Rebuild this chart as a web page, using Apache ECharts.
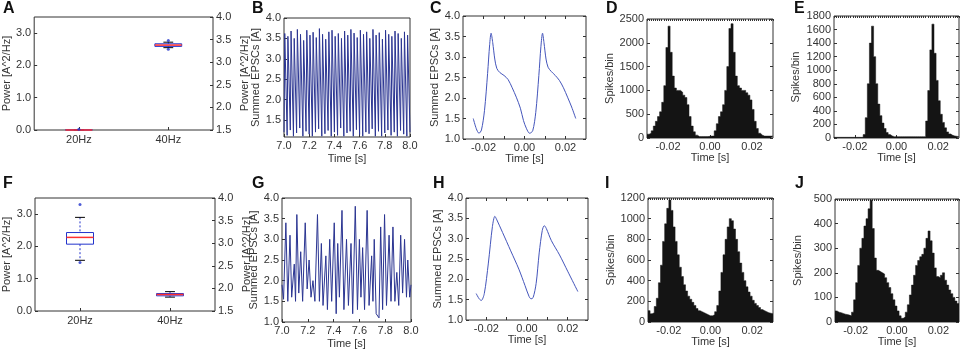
<!DOCTYPE html>
<html>
<head>
<meta charset="utf-8">
<script src="https://cdn.jsdelivr.net/npm/echarts@6/dist/echarts.min.js"></script>
<style>
  html, body { margin: 0; padding: 0; background: #fff; }
  #chart { width: 964px; height: 350px; }
</style>
</head>
<body>
<div id="chart"></div>
<script>
// ---- data ----
const boxCats = ['20Hz', '40Hz']
// [category, low whisker, q1, median, q3, high whisker]
const boxA = [[0, 0, 0, 0, 0.005, 0.01], [1, 2.55, 2.59, 2.63, 2.67, 2.72]]
const outA = [[0, 0.02], [1, 2.5], [1, 2.77]]
const boxF = [[0, 1.57, 2.07, 2.28, 2.43, 2.9], [1, 0.43, 0.47, 0.51, 0.54, 0.6]]
const outF = [[0, 3.3], [0, 1.5]]

const powerTicks = [0, 1, 2, 3]
const powerRightTicks = [1.5, 2, 2.5, 3, 3.5, 4]
const epscTicksB = [1.5, 2, 2.5, 3, 3.5, 4]
const epscTicks = [1, 1.5, 2, 2.5, 3, 3.5, 4]
const timeTicks = [7, 7.2, 7.4, 7.6, 7.8, 8]
const lagLabels = [-0.02, 0, 0.02]
const lagTicks = [-0.02, -0.01, 0, 0.01, 0.02]
const ticksD = [0, 500, 1000, 1500, 2000, 2500]
const ticksE = [0, 200, 400, 600, 800, 1000, 1200, 1400, 1600, 1800]
const ticksI = [0, 200, 400, 600, 800, 1000, 1200]
const ticksJ = [0, 100, 200, 300, 400, 500]

// B: peaks / troughs of the 40 Hz summed EPSC trace
const bPeaks = [3.62, 3.55, 3.68, 3.5, 3.72, 3.6, 3.45, 3.7, 3.58, 3.65, 3.52, 3.74, 3.6, 3.48, 3.66, 3.7, 3.55, 3.62, 3.5, 3.68,
  3.58, 3.72, 3.63, 3.52, 3.7, 3.6, 3.66, 3.5, 3.72, 3.58, 3.64, 3.48, 3.7, 3.6, 3.55, 3.68, 3.62, 3.5, 3.66, 3.58]
const bTroughs = [1.2, 1.12, 1.25, 1.1, 1.18, 1.3, 1.1, 1.22, 1.15, 1.1, 1.2, 1.28, 1.1, 1.16, 1.24, 1.1, 1.2, 1.12, 1.3, 1.1,
  1.18, 1.22, 1.1, 1.26, 1.14, 1.1, 1.2, 1.16, 1.28, 1.1, 1.22, 1.1, 1.18, 1.25, 1.12, 1.2, 1.1, 1.24, 1.15, 1.1, 1.2]
const bStart = 7.0
const bPeriod = 0.025
const bRise = 0.006

// G: vertices of the mixed trace [time, value]
const gPoints = [
  [7.000, 1.9], [7.012, 1.55], [7.030, 3.4], [7.045, 1.5], [7.062, 3.1], [7.075, 1.6], [7.095, 2.4], [7.105, 1.5],
  [7.115, 3.6], [7.130, 1.7], [7.145, 2.7], [7.160, 1.5], [7.180, 3.4], [7.195, 1.8], [7.210, 2.5], [7.225, 1.6],
  [7.240, 2.0], [7.255, 1.5], [7.275, 3.6], [7.290, 1.5], [7.305, 2.9], [7.318, 1.4], [7.340, 2.6], [7.352, 1.3],
  [7.370, 3.0], [7.385, 1.5], [7.405, 3.4], [7.420, 1.2], [7.432, 2.9], [7.445, 1.6], [7.465, 3.7], [7.480, 1.3],
  [7.500, 3.0], [7.515, 1.4], [7.535, 2.9], [7.548, 1.2], [7.568, 3.8], [7.585, 1.3], [7.600, 3.0], [7.612, 1.6],
  [7.625, 2.8], [7.640, 1.3], [7.660, 3.7], [7.675, 1.4], [7.695, 2.6], [7.705, 1.5], [7.715, 3.0], [7.730, 1.2],
  [7.752, 1.1], [7.765, 3.3], [7.780, 1.3], [7.795, 3.6], [7.810, 1.4], [7.830, 3.1], [7.845, 1.5], [7.860, 3.3],
  [7.875, 1.5], [7.890, 2.2], [7.905, 1.4], [7.920, 3.1], [7.935, 1.7], [7.950, 3.0], [7.965, 1.6], [7.975, 2.5],
  [7.990, 1.6], [8.000, 1.9]
]

// C / H: averaged cycle [lag, value]
const cPoints = [
  [-0.025, 1.5], [-0.0235, 1.25], [-0.0222, 1.14], [-0.021, 1.22], [-0.0195, 1.7], [-0.018, 2.6], [-0.017, 3.3],
  [-0.0163, 3.58], [-0.0155, 3.35], [-0.0145, 2.95], [-0.0135, 2.72], [-0.012, 2.62], [-0.01, 2.55], [-0.008, 2.45],
  [-0.006, 2.25], [-0.004, 2.02], [-0.002, 1.75], [-0.0005, 1.45], [0.001, 1.25], [0.0025, 1.14], [0.004, 1.2],
  [0.0055, 1.65], [0.007, 2.55], [0.008, 3.25], [0.0088, 3.58], [0.0095, 3.35], [0.0105, 2.95], [0.0115, 2.75],
  [0.013, 2.65], [0.015, 2.55], [0.017, 2.43], [0.019, 2.25], [0.021, 2.02], [0.023, 1.78], [0.025, 1.5]
]
const hPoints = [
  [-0.025, 1.65], [-0.0235, 1.52], [-0.0225, 1.48], [-0.021, 1.65], [-0.019, 2.4], [-0.017, 3.3], [-0.0158, 3.55],
  [-0.015, 3.48], [-0.012, 3.15], [-0.008, 2.7], [-0.004, 2.25], [-0.001, 1.85], [0.001, 1.58], [0.002, 1.52],
  [0.003, 1.55], [0.0045, 1.9], [0.006, 2.65], [0.0075, 3.2], [0.0085, 3.32], [0.0095, 3.25], [0.012, 2.95],
  [0.016, 2.6], [0.02, 2.2], [0.025, 1.7]
]

// D, E, I, J: spike histograms, 1 ms bins from -0.03 s
const lagStart = -0.03
const binWidth = 0.001
const histD = [80, 100, 150, 250, 350, 450, 550, 750, 1100, 1900, 2350, 1800, 1300, 1050, 1000, 1000, 960, 900, 850, 700,
  450, 250, 130, 60, 30, 30, 30, 30, 30, 35, 40, 40, 150, 300, 450, 550, 700, 1000, 1500, 2300,
  2400, 1800, 1300, 1100, 1050, 1000, 1000, 950, 900, 800, 600, 350, 200, 100, 60, 40, 40, 40, 40, 40]
const histE = [10, 10, 10, 10, 10, 10, 10, 10, 10, 10, 10, 10, 10, 10, 50, 300, 800, 1400, 1650, 1200,
  800, 500, 330, 220, 140, 80, 50, 30, 20, 20, 20, 20, 20, 20, 20, 20, 20, 20, 20, 20,
  20, 20, 20, 20, 250, 700, 1300, 1680, 1250, 850, 550, 350, 230, 150, 90, 60, 40, 30, 25, 20]
const histI = [110, 80, 90, 150, 230, 380, 550, 780, 950, 1100, 1180, 1080, 920, 780, 650, 530, 440, 360, 300, 250,
  220, 190, 160, 130, 110, 100, 90, 80, 70, 60, 60, 70, 100, 160, 300, 480, 650, 800, 920, 1000,
  980, 900, 800, 680, 570, 480, 400, 340, 290, 250, 210, 180, 160, 140, 120, 110, 100, 90, 85, 80]
const histJ = [45, 40, 38, 35, 32, 30, 28, 25, 40, 90, 160, 230, 300, 340, 390, 420, 460, 495, 380, 260,
  210, 205, 200, 195, 180, 160, 140, 115, 90, 65, 45, 25, 15, 20, 40, 70, 110, 150, 190, 230,
  250, 265, 275, 300, 340, 370, 330, 280, 220, 185, 180, 190, 200, 170, 150, 130, 115, 100, 85, 75]

// ---- helpers ----
const FONT = 'Liberation Sans'
const TXT = '#333'
const BLUE_BOX = '#2233cc'
const RED = '#ff3030'
const TRACE = '#2b3592'
const AVG = '#4455bb'
const HIST = '#141414'

const xAxes = []
const yAxes = []
const series = []
function addX (cfg) { xAxes.push(cfg); return xAxes.length - 1 }
function addY (cfg) { yAxes.push(cfg); return yAxes.length - 1 }

function fmt1 (v) { return v.toFixed(1) }
function fmt2 (v) { return v.toFixed(2) }
function fmt0 (v) { return String(Math.round(v)) }

function valueAxis (o) {
  return {
    type: 'value',
    gridIndex: o.grid,
    position: o.position,
    min: o.min,
    max: o.max,
    name: o.name || '',
    nameLocation: 'middle',
    nameGap: o.gap || 0,
    nameTextStyle: { color: TXT, fontSize: 11, fontFamily: FONT },
    axisLine: { show: false, onZero: false },
    axisTick: { show: !!o.ticks, inside: true, length: o.tickLen || 3, customValues: o.ticks, lineStyle: { color: '#333' } },
    axisLabel: {
      show: !!o.labels, customValues: o.labels, formatter: o.fmt,
      color: TXT, fontSize: 11, fontFamily: FONT, margin: o.margin == null ? 3 : o.margin
    },
    splitLine: { show: false }
  }
}

function catAxis (grid) {
  return {
    type: 'category', gridIndex: grid, data: boxCats,
    axisLine: { show: false, onZero: false },
    axisTick: { show: true, inside: true, length: 3, alignWithLabel: true, lineStyle: { color: '#333' } },
    axisLabel: { color: TXT, fontSize: 11, fontFamily: FONT, margin: 4 },
    splitLine: { show: false }
  }
}

function renderBox (params, api) {
  const c = api.value(0)
  const pLow = api.coord([c, api.value(1)])
  const pQ1 = api.coord([c, api.value(2)])
  const pMed = api.coord([c, api.value(3)])
  const pQ3 = api.coord([c, api.value(4)])
  const pHigh = api.coord([c, api.value(5)])
  const band = api.size([1, 0])[0]
  const half = band * 0.15
  const cap = band * 0.055
  const x = pMed[0]
  const dash = { stroke: BLUE_BOX, lineWidth: 1, lineDash: [2, 2] }
  const capStyle = { stroke: '#000', lineWidth: 1 }
  return {
    type: 'group',
    children: [
      { type: 'line', shape: { x1: x, y1: pHigh[1], x2: x, y2: pQ3[1] }, style: dash },
      { type: 'line', shape: { x1: x, y1: pQ1[1], x2: x, y2: pLow[1] }, style: dash },
      { type: 'line', shape: { x1: x - cap, y1: pHigh[1], x2: x + cap, y2: pHigh[1] }, style: capStyle },
      { type: 'line', shape: { x1: x - cap, y1: pLow[1], x2: x + cap, y2: pLow[1] }, style: capStyle },
      { type: 'rect', shape: { x: x - half, y: pQ3[1], width: half * 2, height: pQ1[1] - pQ3[1] }, style: { fill: 'none', stroke: BLUE_BOX, lineWidth: 1 } },
      { type: 'line', shape: { x1: x - half, y1: pMed[1], x2: x + half, y2: pMed[1] }, style: { stroke: RED, lineWidth: 1.5 } }
    ]
  }
}

function boxPanel (grid, boxes, outliers) {
  const xi = addX(catAxis(grid))
  const yl = addY(valueAxis({ grid, min: 0, max: 3.5, labels: powerTicks, ticks: powerTicks, fmt: fmt1, name: 'Power [A^2/Hz]', gap: 20 }))
  addY(valueAxis({ grid, position: 'right', min: 1.5, max: 4, labels: powerRightTicks, ticks: powerRightTicks, fmt: fmt1, name: 'Power [A^2/Hz]', gap: 26 }))
  series.push({
    type: 'custom', xAxisIndex: xi, yAxisIndex: yl, renderItem: renderBox,
    encode: { x: 0, y: [1, 2, 3, 4, 5] }, data: boxes, clip: false
  })
  series.push({
    type: 'scatter', xAxisIndex: xi, yAxisIndex: yl, symbol: 'circle', symbolSize: 3,
    itemStyle: { color: BLUE_BOX }, data: outliers
  })
}

function tracePanel (grid, yMin, yLabels, data, color, yGap) {
  const xi = addX(valueAxis({ grid, min: 7, max: 8, labels: timeTicks, ticks: timeTicks, fmt: fmt1, name: 'Time [s]', gap: 16, margin: 3 }))
  const yi = addY(valueAxis({ grid, min: yMin, max: 4, labels: yLabels, ticks: yLabels, fmt: fmt1, name: 'Summed EPSCs [A]', gap: yGap }))
  series.push({
    type: 'line', xAxisIndex: xi, yAxisIndex: yi, data, symbol: 'none',
    lineStyle: { color, width: 1 }, clip: true
  })
}

function cyclePanel (grid, data, yGap) {
  const xi = addX(valueAxis({ grid, min: -0.03, max: 0.03, labels: lagLabels, ticks: lagTicks, fmt: fmt2, name: 'Time [s]', gap: 14, margin: 3 }))
  addX(valueAxis({ grid, position: 'top', min: -0.03, max: 0.03, ticks: lagTicks }))
  const yi = addY(valueAxis({ grid, min: 1, max: 4, labels: epscTicks, ticks: epscTicks, fmt: fmt1, name: 'Summed EPSCs [A]', gap: yGap }))
  addY(valueAxis({ grid, position: 'right', min: 1, max: 4, ticks: epscTicks }))
  series.push({
    type: 'line', xAxisIndex: xi, yAxisIndex: yi, data, symbol: 'none', smooth: 0.3,
    lineStyle: { color: AVG, width: 1 }
  })
}

const binTicks = histD.map((c, i) => lagStart + i * binWidth).concat([lagStart + histD.length * binWidth])

function histPanel (grid, counts, yMax, yLabels, yGap) {
  const xi = addX(valueAxis({ grid, min: -0.03, max: 0.03, labels: lagLabels, ticks: lagLabels, fmt: fmt2, name: 'Time [s]', gap: 14, margin: 3 }))
  addX(valueAxis({ grid, position: 'top', min: -0.03, max: 0.03, ticks: binTicks, tickLen: 2 }))
  const yi = addY(valueAxis({ grid, min: 0, max: yMax, labels: yLabels, ticks: yLabels, fmt: fmt0, name: 'Spikes/bin', gap: yGap }))
  addY(valueAxis({ grid, position: 'right', min: 0, max: yMax, ticks: yLabels }))
  const pts = counts.map((c, i) => [lagStart + i * binWidth, c])
  pts.push([lagStart + counts.length * binWidth, counts[counts.length - 1]])
  series.push({
    type: 'line', step: 'end', xAxisIndex: xi, yAxisIndex: yi, data: pts, symbol: 'none',
    lineStyle: { color: HIST, width: 0.5 }, areaStyle: { color: HIST, opacity: 1 }
  })
}

const bData = []
bTroughs.forEach((v, i) => {
  bData.push([bStart + i * bPeriod, v])
  if (i < bPeaks.length) bData.push([bStart + i * bPeriod + bRise, bPeaks[i]])
})

const gridBoxes = [
  { left: 33, top: 17, width: 180, height: 113 },
  { left: 284, top: 18, width: 126, height: 119 },
  { left: 463, top: 16, width: 123, height: 123 },
  { left: 647, top: 19, width: 126, height: 119 },
  { left: 834, top: 16, width: 125, height: 122 },
  { left: 35, top: 198, width: 180, height: 113 },
  { left: 282, top: 198, width: 129, height: 124 },
  { left: 466, top: 198, width: 122, height: 122 },
  { left: 648, top: 198, width: 125, height: 124 },
  { left: 835, top: 199, width: 124, height: 123 }
]
const grids = gridBoxes.map(g => Object.assign({ show: true, borderColor: '#333', borderWidth: 1 }, g))

boxPanel(0, boxA, outA)
tracePanel(1, 1.08, epscTicksB, bData, TRACE, 19)
cyclePanel(2, cPoints, 23)
histPanel(3, histD, 2500, ticksD, 30)
histPanel(4, histE, 1800, ticksE, 33)
boxPanel(5, boxF, outF)
tracePanel(6, 1, epscTicks, gPoints, TRACE, 17)
cyclePanel(7, hPoints, 23)
histPanel(8, histI, 1200, ticksI, 31)
histPanel(9, histJ, 500, ticksJ, 32)

const letters = [
  ['A', 3, 1], ['B', 252, 1], ['C', 430, 1], ['D', 606, 1], ['E', 794, 1],
  ['F', 3, 176], ['G', 252, 176], ['H', 433, 176], ['I', 605, 176], ['J', 795, 176]
]

const chart = echarts.init(document.getElementById('chart'), null, { renderer: 'canvas' })
chart.setOption({
  animation: false,
  backgroundColor: '#fff',
  grid: grids,
  xAxis: xAxes,
  yAxis: yAxes,
  series,
  graphic: letters.map(([t, x, y]) => ({
    type: 'text', left: x, top: y,
    style: { text: t, fill: '#111', font: 'bold 16px "Liberation Sans"' }
  }))
})
</script>
</body>
</html>
